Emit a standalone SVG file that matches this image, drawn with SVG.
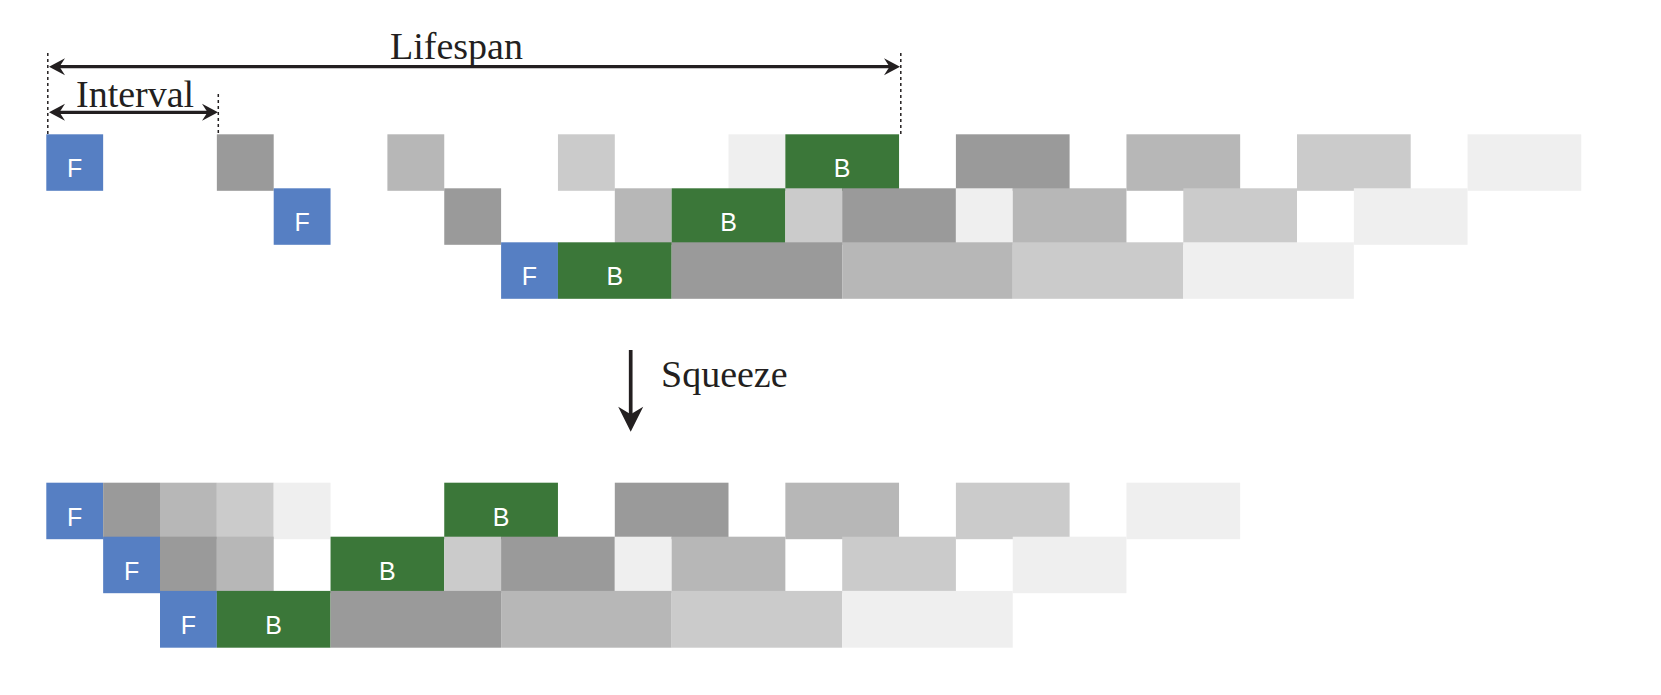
<svg xmlns="http://www.w3.org/2000/svg" width="1661" height="695" viewBox="0 0 1661 695">
<style>
.f{fill:#567fc3}
.b{fill:#3b7739}
.g1{fill:#9a9a9a}
.g2{fill:#b7b7b7}
.g3{fill:#cbcbcb}
.g4{fill:#efefef}
.lb{font-family:"Liberation Sans",Arial,sans-serif;font-size:25px;fill:#ffffff;text-anchor:middle}
.lab{font-family:"Liberation Serif","Times New Roman",serif;font-size:38px;fill:#231f20}
.ln{stroke:#231f20;stroke-width:3.3;fill:none}
.dot{stroke:#231f20;stroke-width:1.5;stroke-dasharray:3 3;fill:none}
</style>
<defs>
<marker id="ah" markerUnits="userSpaceOnUse" viewBox="0 -9 17 18" refX="7" refY="0" markerWidth="17" markerHeight="18" orient="auto-start-reverse" overflow="visible">
<path d="M0,-8.5 L16,0 L0,8.5 L5.5,0 Z" fill="#231f20"/>
</marker>
<marker id="ahb" markerUnits="userSpaceOnUse" viewBox="0 -13 26 26" refX="10" refY="0" markerWidth="26" markerHeight="26" orient="auto" overflow="visible">
<path d="M0,-12.5 L25,0 L0,12.5 L7.5,0 Z" fill="#231f20"/>
</marker>
</defs>
<rect width="1661" height="695" fill="#ffffff"/>

<g id="top">
<!-- row 1 -->
<g id="t-r1-f"><rect class="f" x="46.3" y="134.3" width="56.85" height="56.5"/><text class="lb" x="74.7" y="177.3">F</text></g>
<g id="t-r1-g3"><rect class="g1" x="216.85" y="134.3" width="56.85" height="56.5"/></g>
<g id="t-r1-g6"><rect class="g2" x="387.4" y="134.3" width="56.85" height="56.5"/></g>
<g id="t-r1-g9"><rect class="g3" x="557.95" y="134.3" width="56.85" height="56.5"/></g>
<g id="t-r1-g12"><rect class="g4" x="728.5" y="134.3" width="56.85" height="56.5"/></g>
<g id="t-r1-b"><rect class="b" x="785.35" y="134.3" width="113.7" height="56.5"/><text class="lb" x="842.2" y="177.3">B</text></g>
<g id="t-r1-g16"><rect class="g1" x="955.9" y="134.3" width="113.7" height="56.5"/></g>
<g id="t-r1-g19"><rect class="g2" x="1126.45" y="134.3" width="113.7" height="56.5"/></g>
<g id="t-r1-g22"><rect class="g3" x="1297" y="134.3" width="113.7" height="56.5"/></g>
<g id="t-r1-g25"><rect class="g4" x="1467.55" y="134.3" width="113.7" height="56.5"/></g>
<!-- row 2 -->
<g id="t-r2-f"><rect class="f" x="273.7" y="188.3" width="56.85" height="56.5"/><text class="lb" x="302.1" y="231.3">F</text></g>
<g id="t-r2-g7"><rect class="g1" x="444.25" y="188.3" width="56.85" height="56.5"/></g>
<g id="t-r2-g10"><rect class="g2" x="614.8" y="188.3" width="56.85" height="56.5"/></g>
<g id="t-r2-b"><rect class="b" x="671.65" y="188.3" width="113.7" height="56.5"/><text class="lb" x="728.5" y="231.3">B</text></g>
<g id="t-r2-g13"><rect class="g3" x="785.35" y="188.3" width="56.85" height="56.5"/></g>
<g id="t-r2-g14"><rect class="g1" x="842.2" y="188.3" width="113.7" height="56.5"/></g>
<g id="t-r2-g16"><rect class="g4" x="955.9" y="188.3" width="56.85" height="56.5"/></g>
<g id="t-r2-g17"><rect class="g2" x="1012.75" y="188.3" width="113.7" height="56.5"/></g>
<g id="t-r2-g20"><rect class="g3" x="1183.3" y="188.3" width="113.7" height="56.5"/></g>
<g id="t-r2-g23"><rect class="g4" x="1353.85" y="188.3" width="113.7" height="56.5"/></g>
<!-- row 3 -->
<g id="t-r3-f"><rect class="f" x="501.1" y="242.3" width="56.85" height="56.5"/><text class="lb" x="529.5" y="285.3">F</text></g>
<g id="t-r3-b"><rect class="b" x="557.95" y="242.3" width="113.7" height="56.5"/><text class="lb" x="614.8" y="285.3">B</text></g>
<g id="t-r3-g11"><rect class="g1" x="671.65" y="242.3" width="170.55" height="56.5"/></g>
<g id="t-r3-g14"><rect class="g2" x="842.2" y="242.3" width="170.55" height="56.5"/></g>
<g id="t-r3-g17"><rect class="g3" x="1012.75" y="242.3" width="170.55" height="56.5"/></g>
<g id="t-r3-g20"><rect class="g4" x="1183.3" y="242.3" width="170.55" height="56.5"/></g>
</g>

<g id="bottom">
<!-- row 1 -->
<g id="b-r1-f"><rect class="f" x="46.3" y="482.7" width="56.85" height="56.5"/><text class="lb" x="74.7" y="525.7">F</text></g>
<g id="b-r1-g1"><rect class="g1" x="103.15" y="482.7" width="56.85" height="56.5"/></g>
<g id="b-r1-g2"><rect class="g2" x="160" y="482.7" width="56.85" height="56.5"/></g>
<g id="b-r1-g3"><rect class="g3" x="216.85" y="482.7" width="56.85" height="56.5"/></g>
<g id="b-r1-g4"><rect class="g4" x="273.7" y="482.7" width="56.85" height="56.5"/></g>
<g id="b-r1-b"><rect class="b" x="444.25" y="482.7" width="113.7" height="56.5"/><text class="lb" x="501.1" y="525.7">B</text></g>
<g id="b-r1-g10"><rect class="g1" x="614.8" y="482.7" width="113.7" height="56.5"/></g>
<g id="b-r1-g13"><rect class="g2" x="785.35" y="482.7" width="113.7" height="56.5"/></g>
<g id="b-r1-g16"><rect class="g3" x="955.9" y="482.7" width="113.7" height="56.5"/></g>
<g id="b-r1-g19"><rect class="g4" x="1126.45" y="482.7" width="113.7" height="56.5"/></g>
<!-- row 2 -->
<g id="b-r2-f"><rect class="f" x="103.15" y="536.7" width="56.85" height="56.5"/><text class="lb" x="131.6" y="579.7">F</text></g>
<g id="b-r2-g2"><rect class="g1" x="160" y="536.7" width="56.85" height="56.5"/></g>
<g id="b-r2-g3"><rect class="g2" x="216.85" y="536.7" width="56.85" height="56.5"/></g>
<g id="b-r2-b"><rect class="b" x="330.55" y="536.7" width="113.7" height="56.5"/><text class="lb" x="387.4" y="579.7">B</text></g>
<g id="b-r2-g7"><rect class="g3" x="444.25" y="536.7" width="56.85" height="56.5"/></g>
<g id="b-r2-g8"><rect class="g1" x="501.1" y="536.7" width="113.7" height="56.5"/></g>
<g id="b-r2-g10"><rect class="g4" x="614.8" y="536.7" width="56.85" height="56.5"/></g>
<g id="b-r2-g11"><rect class="g2" x="671.65" y="536.7" width="113.7" height="56.5"/></g>
<g id="b-r2-g14"><rect class="g3" x="842.2" y="536.7" width="113.7" height="56.5"/></g>
<g id="b-r2-g17"><rect class="g4" x="1012.75" y="536.7" width="113.7" height="56.5"/></g>
<!-- row 3 -->
<g id="b-r3-f"><rect class="f" x="160" y="590.9" width="56.85" height="56.8"/><text class="lb" x="188.4" y="633.9">F</text></g>
<g id="b-r3-b"><rect class="b" x="216.85" y="590.9" width="113.7" height="56.8"/><text class="lb" x="273.7" y="633.9">B</text></g>
<g id="b-r3-g5"><rect class="g1" x="330.55" y="590.9" width="170.55" height="56.8"/></g>
<g id="b-r3-g8"><rect class="g2" x="501.1" y="590.9" width="170.55" height="56.8"/></g>
<g id="b-r3-g11"><rect class="g3" x="671.65" y="590.9" width="170.55" height="56.8"/></g>
<g id="b-r3-g14"><rect class="g4" x="842.2" y="590.9" width="170.55" height="56.8"/></g>
</g>

<g id="connectors">
<line class="dot" x1="47.8" y1="53" x2="47.8" y2="134"/>
<line class="dot" x1="218.3" y1="94" x2="218.3" y2="134"/>
<line class="dot" x1="900.8" y1="53" x2="900.8" y2="134"/>
<line class="ln" x1="58" y1="66.7" x2="891" y2="66.7" marker-start="url(#ah)" marker-end="url(#ah)"/>
<line class="ln" x1="58" y1="112.3" x2="209" y2="112.3" marker-start="url(#ah)" marker-end="url(#ah)"/>
<line class="ln" style="stroke-width:3.7" x1="630.7" y1="350" x2="630.7" y2="416.7" marker-end="url(#ahb)"/>
</g>

<g id="labels">
<text class="lab" x="390" y="59.3">Lifespan</text>
<text class="lab" x="76" y="106.7">Interval</text>
<text class="lab" x="661" y="386.7">Squeeze</text>
</g>
</svg>
